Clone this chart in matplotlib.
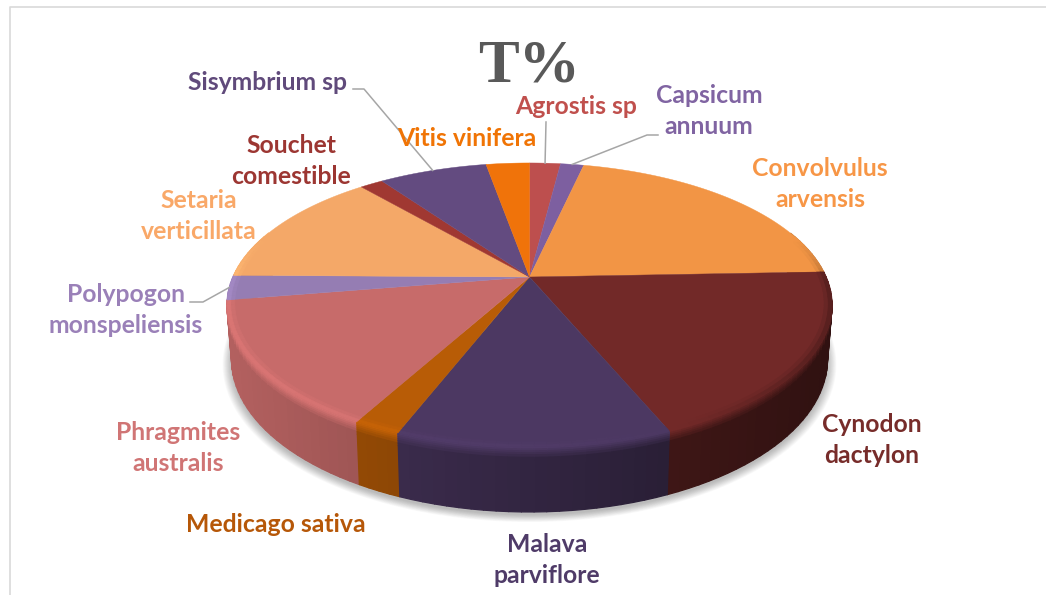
import numpy as np
import matplotlib
matplotlib.use('Agg')
from matplotlib import pyplot as plt
from matplotlib.collections import PolyCollection
from matplotlib.colors import to_rgb
from matplotlib.patches import Polygon

# values (% of the pie)
species = ['Agrostis sp', 'Capsicum\nannuum', 'Convolvulus\narvensis', 'Cynodon\ndactylon',
           'Malava\nparviflore', 'Medicago sativa', 'Phragmites\naustralis', 'Polypogon\nmonspeliensis',
           'Setaria\nverticillata', 'Souchet\ncomestible', 'Sisymbrium sp', 'Vitis vinifera']
t_percent = [2.0, 1.5, 20.9, 19.3, 12.2, 2.1, 14.4, 2.8, 13.5, 1.5, 7.0, 2.8]
slice_colors = ['#bd4f4e', '#7d5fa0', '#f29545', '#722928', '#4c3862', '#b85c06',
                '#c76b6a', '#957db3', '#f4a868', '#a03832', '#634b80', '#f0730a']
label_colors = ['#c0504d', '#8064a2', '#f79646', '#772c2a', '#4f3b68', '#b65708',
                '#d07575', '#9a80b8', '#f9a868', '#9c3632', '#604a7b', '#f07405']

# where the labels sit, in pixels
label_x = [576, 709, 820, 872, 547, 276, 178, 126, 199, 291, 267, 467]
label_y = [107, 111, 184, 440, 560, 524, 448, 310, 216, 161, 82, 139]

# pie geometry in pixels
CX, CY = 529.5, 277
A, B, P = 296.6, 136.5, 0.197


def project(theta, r=1.0):
    t = np.radians(theta)
    x, y = r * np.cos(t), r * np.sin(t)
    w = 1 + P * y
    return CX + A * x / w, CY - B * y / w


def drop(px, py, z):
    # point on the side wall, z=0 top edge, z=1 bottom edge
    return CX + (px - CX) * (1 - 0.015 * z), py + z * (52 + 13 * (py - CY) / 170)


def shade(color, f):
    return tuple(min(1, c * f) for c in color)


def mix(c1, c2, f):
    return tuple(a * (1 - f) + b * f for a, b in zip(c1, c2))


def rim_factor(px):
    return np.interp(px - CX, [-300, 0, 150, 300], [1.1, 1.05, 1.0, 0.75])


def wall_factor(px):
    return np.clip(0.66 - 0.0008 * (px - CX), 0.4, 0.92)


fig = plt.figure(figsize=(10.46, 5.95), dpi=100)
ax = fig.add_axes([0, 0, 1, 1])
wedges, _ = ax.pie(t_percent, startangle=90, counterclock=False, colors=slice_colors)
angles = [(w.theta1, w.theta2) for w in wedges]
for w in wedges:
    w.remove()
ax.set_aspect('auto')
ax.set_xlim(0, 1046)
ax.set_ylim(595, 0)
ax.axis('off')

# chart frame
ax.plot([9.5, 9.5, 1046], [595, 6.5, 6.5], color='#d9d9d9', lw=1.2)

# soft shadow under the pie
th = np.linspace(180, 360, 120)
sx, sy = project(th)
sx, sy = drop(sx, sy, 1)
for k in np.linspace(1, 0, 12):
    grow = 1 + 0.03 * k
    shadow_x = CX + (sx - CX) * grow
    shadow_y = CY + (sy - CY) * grow + 3
    ax.add_patch(Polygon(np.column_stack([shadow_x, shadow_y]), color='#000000', alpha=0.022, lw=0))

# side wall, strip by strip, back strips first
zs = [0, 0.03, 0.06, 0.09, 0.12, 0.16, 0.2, 1]
strips = []
for (t1, t2), c in zip(angles, slice_colors):
    base = to_rgb(c)
    steps = np.linspace(t1, t2, max(2, int((t2 - t1) / 2) + 2))
    for a, b in zip(steps[:-1], steps[1:]):
        if np.sin(np.radians((a + b) / 2)) > 0.35:
            continue
        ax1, ay1 = project(a)
        ax2, ay2 = project(b)
        for z1, z2 in zip(zs[:-1], zs[1:]):
            x1, y1 = drop(ax1, ay1, z1)
            x2, y2 = drop(ax2, ay2, z1)
            x3, y3 = drop(ax2, ay2, z2)
            x4, y4 = drop(ax1, ay1, z2)
            mid = (ax1 + ax2) / 2
            rim = shade(base, rim_factor(mid))
            wall = shade(base, wall_factor(mid))
            strips.append(((ay1 + ay2) / 2, [(x1, y1), (x2, y2), (x3, y3), (x4, y4)],
                           mix(rim, wall, min(1, z1 / 0.16))))
strips.sort(key=lambda s: s[0])
polys = [s[1] for s in strips]
cols = [s[2] for s in strips]
ax.add_collection(PolyCollection(polys, facecolors=cols, edgecolors=cols, linewidths=0.9))

# top face
for (t1, t2), c in zip(angles, slice_colors):
    th = np.linspace(t1, t2, max(3, int(t2 - t1) + 2))
    px, py = project(th)
    pts = np.vstack([[CX, CY], np.column_stack([px, py])])
    ax.add_patch(Polygon(pts, facecolor=c, edgecolor=c, lw=0.3))

# bevel along the front edge of the top face
polys, cols = [], []
for (t1, t2), c in zip(angles, slice_colors):
    base = to_rgb(c)
    steps = np.linspace(t1, t2, max(2, int((t2 - t1) / 2) + 2))
    for a, b in zip(steps[:-1], steps[1:]):
        s = np.sin(np.radians((a + b) / 2))
        if s > 0.3:
            continue
        for r1, r2, f in [(0.975, 0.988, 0.35), (0.988, 1.0, 0.9)]:
            x1, y1 = project(a, r1)
            x2, y2 = project(b, r1)
            x3, y3 = project(b, r2)
            x4, y4 = project(a, r2)
            polys.append([(x1, y1), (x2, y2), (x3, y3), (x4, y4)])
            cols.append(mix(base, shade(base, rim_factor((x1 + x2) / 2)), f * min(1, (0.3 - s) * 3)))
ax.add_collection(PolyCollection(polys, facecolors=cols, edgecolors=cols, linewidths=0.5))

# leader lines, from a knee next to the label to the middle of the slice
leader_knees = {0: [(546, 122)], 1: [(658, 135), (647, 135)],
                10: [(353, 89), (364, 89)], 7: [(190, 302), (203, 302)]}
for i, knee in leader_knees.items():
    end = project(sum(angles[i]) / 2)
    xs = [p[0] for p in knee] + [end[0]]
    ys = [p[1] for p in knee] + [end[1]]
    ax.plot(xs, ys, color='#a6a6a6', lw=1.1)

for name, x, y, c in zip(species, label_x, label_y, label_colors):
    ax.text(x, y, name, color=c, family='Lato', weight='bold', fontsize=17.8,
            ha='center', va='center', ma='center', linespacing=1.46)

ax.text(529, 82, 'T%', color='#595959', family='Liberation Serif', weight='bold',
        fontsize=44, ha='center', va='baseline')

fig.savefig('out.png', dpi=100)
